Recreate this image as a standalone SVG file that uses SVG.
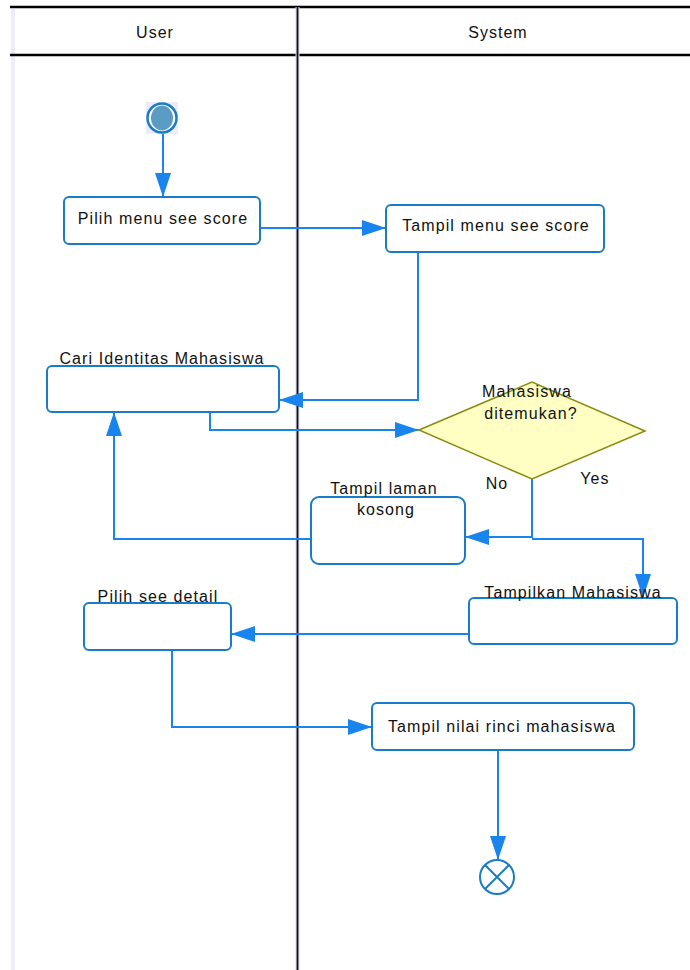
<svg xmlns="http://www.w3.org/2000/svg" width="690" height="970" viewBox="0 0 690 970">
  <style>
    .lbl { font-family: "Liberation Sans", Arial, sans-serif; font-size: 16px; letter-spacing: 1.1px; fill: #111; }
    .hdr { font-family: "Liberation Sans", Arial, sans-serif; font-size: 16px; letter-spacing: 1px; fill: #111; }
    .act { fill: #fff; stroke: #1a7cc4; stroke-width: 2; }
    .flow { fill: none; stroke: #1a84ee; stroke-width: 2; }
  </style>
  <defs>
    <marker id="arrow" viewBox="0 0 24 16" refX="24" refY="8" markerWidth="24" markerHeight="16" markerUnits="userSpaceOnUse" orient="auto">
      <path d="M0,0 L24,8 L0,16 Z" fill="#1a84ee"/>
    </marker>
  </defs>

  <rect x="0" y="0" width="690" height="970" fill="#fff"/>

  <!-- swimlanes -->
  <g id="lanes">
    <rect x="11" y="9" width="4" height="961" fill="#ececfa"/>
    <line x1="10" y1="7" x2="690" y2="7" stroke="#000" stroke-width="2.5"/>
    <line x1="10" y1="55" x2="690" y2="55" stroke="#000" stroke-width="2.5"/>
    <rect x="295.5" y="7" width="4" height="963" fill="#d8d8f0"/>
    <line x1="297.5" y1="7" x2="297.5" y2="970" stroke="#111" stroke-width="1.8"/>
    <text class="hdr" x="155" y="38" text-anchor="middle">User</text>
    <text class="hdr" x="498" y="38" text-anchor="middle">System</text>
  </g>

  <!-- connectors -->
  <g id="connectors">
    <path class="flow" d="M163,133 V197" marker-end="url(#arrow)"/>
    <path class="flow" d="M260,228 H386" marker-end="url(#arrow)"/>
    <path class="flow" d="M418,252 V400 H279" marker-end="url(#arrow)"/>
    <path class="flow" d="M210,412 V430 H419" marker-end="url(#arrow)"/>
    <path class="flow" d="M532,479 V537 H465" marker-end="url(#arrow)"/>
    <path class="flow" d="M532,539 H643 V598" marker-end="url(#arrow)"/>
    <path class="flow" d="M311,539 H114 V412" marker-end="url(#arrow)"/>
    <path class="flow" d="M469,634 H231" marker-end="url(#arrow)"/>
    <path class="flow" d="M172,650 V727 H372" marker-end="url(#arrow)"/>
    <path class="flow" d="M498,750 V860" marker-end="url(#arrow)"/>
  </g>

  <!-- start -->
  <g id="start">
    <rect x="146" y="102" width="32" height="32" fill="#ececfa"/>
    <circle cx="162" cy="118" r="14.5" fill="#fff" stroke="#1a7cc4" stroke-width="2.5"/>
    <ellipse cx="162" cy="118" rx="11" ry="12.5" fill="#5b9cc4"/>
  </g>

  <g id="pilih-menu">
    <rect class="act" x="64" y="197" width="196" height="47" rx="5"/>
    <text class="lbl" x="163" y="224" text-anchor="middle">Pilih menu see score</text>
  </g>

  <g id="tampil-menu">
    <rect class="act" x="386" y="205" width="218" height="47" rx="5"/>
    <text class="lbl" x="496" y="231" text-anchor="middle">Tampil menu see score</text>
  </g>

  <g id="cari-identitas">
    <rect class="act" x="47" y="366" width="232" height="46" rx="5"/>
    <text class="lbl" x="162" y="364" text-anchor="middle">Cari Identitas Mahasiswa</text>
  </g>

  <g id="decision">
    <polygon points="419,430 532,382 645,431 532,479" fill="#ffffc4" stroke="#8a8a10" stroke-width="1.5"/>
    <text class="lbl" x="527" y="397" text-anchor="middle">Mahasiswa</text>
    <text class="lbl" x="531" y="419" text-anchor="middle">ditemukan?</text>
    <text class="lbl" x="497" y="489" text-anchor="middle">No</text>
    <text class="lbl" x="595" y="484" text-anchor="middle">Yes</text>
  </g>

  <g id="tampil-kosong">
    <rect class="act" x="311" y="497" width="154" height="67" rx="8"/>
    <text class="lbl" x="384" y="494" text-anchor="middle">Tampil laman</text>
    <text class="lbl" x="386" y="515" text-anchor="middle">kosong</text>
  </g>

  <g id="tampilkan-mahasiswa">
    <rect class="act" x="469" y="598" width="208" height="46" rx="5"/>
    <text class="lbl" x="573" y="598" text-anchor="middle">Tampilkan Mahasiswa</text>
  </g>

  <g id="pilih-detail">
    <rect class="act" x="84" y="603" width="147" height="47" rx="5"/>
    <text class="lbl" x="158" y="602" text-anchor="middle">Pilih see detail</text>
  </g>

  <g id="tampil-nilai">
    <rect class="act" x="372" y="703" width="262" height="47" rx="5"/>
    <text class="lbl" x="502" y="732" text-anchor="middle">Tampil nilai rinci mahasiswa</text>
  </g>

  <!-- end -->
  <g id="end">
    <circle cx="497" cy="877" r="17" fill="#fff" stroke="#1a7cc4" stroke-width="2"/>
    <path d="M485,865 L509,889 M509,865 L485,889" stroke="#1a7cc4" stroke-width="2"/>
  </g>
</svg>
